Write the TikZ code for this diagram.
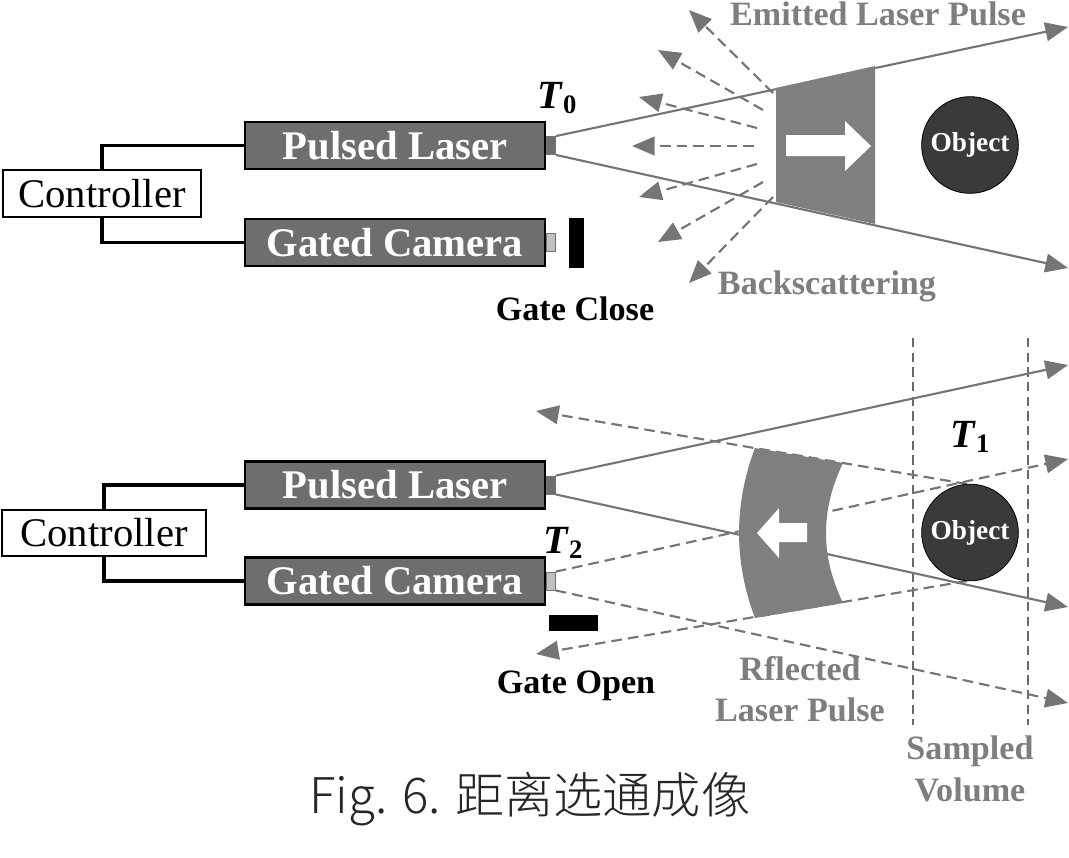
\documentclass[tikz,border=0pt]{standalone}
\usepackage{fontspec}
\setmainfont{Liberation Serif}
\newfontfamily\capfont{Noto Sans CJK SC Light}
\usetikzlibrary{arrows.meta}
\definecolor{beamgray}{HTML}{757575}
\definecolor{boxgray}{HTML}{6E6E6E}
\definecolor{pulsegray}{HTML}{7F7F7F}
\definecolor{objdark}{HTML}{3A3A3A}
\definecolor{labelgray}{HTML}{7E7E7E}
\tikzset{
  x=0.75pt,y=-0.75pt,
  devicebox/.style={draw=black,line width=1.9pt,fill=boxgray,minimum width=225pt,minimum height=35.5pt,inner sep=0pt,text=white,font=\bfseries\fontsize{30.5}{32}\selectfont},
  ctrlbox/.style={draw=black,line width=1.3pt,fill=white,minimum height=35pt,inner sep=0pt,font=\fontsize{30.5}{32}\selectfont},
  wire/.style={draw=black,line width=2.6pt},
  lasernoz/.style={draw=beamgray,fill=boxgray,line width=.6pt,minimum width=6.5pt,minimum height=13.5pt,inner sep=0pt},
  camnoz/.style={draw=beamgray,fill=black!25,line width=.6pt,minimum width=6.5pt,minimum height=13.5pt,inner sep=0pt},
  beam/.style={draw=beamgray,line width=1.6pt,-{Triangle[length=17pt,width=14pt,fill=beamgray]}},
  dbeam/.style={beam,dash pattern=on 8pt off 4.5pt},
  vdash/.style={draw=beamgray!90!black,line width=1.2pt,dash pattern=on 7pt off 4pt},
  pulse/.style={fill=pulsegray,draw=none},
  whitearrow/.style={fill=white,draw=none},
  objc/.style={circle,draw=black,fill=objdark,line width=.6pt,minimum size=72.5pt,inner sep=0pt,text=white,font=\bfseries\fontsize{20.5}{22}\selectfont},
  glabel/.style={text=labelgray,font=\bfseries\fontsize{25.6}{30}\selectfont,inner sep=0pt},
  klabel/.style={text=black,font=\bfseries\fontsize{25.6}{30}\selectfont,inner sep=0pt},
  tlabel/.style={text=black,font=\bfseries\fontsize{30}{30}\selectfont,inner sep=0pt},
  bar/.style={fill=black,draw=none,inner sep=0pt},
}
\newcommand{\Tsym}[1]{\textit{T}\raisebox{-.3ex}{\fontsize{20}{22}\selectfont #1}}
\begin{document}
\begin{tikzpicture}
\useasboundingbox (0,0) rectangle (1069,857);
% ---------- top
\node[ctrlbox,minimum width=149pt] (c1) at (102,193.5) {Controller};
\node[devicebox] (l1) at (395,145.5) {Pulsed Laser};
\node[devicebox] (g1) at (395,242.5) {Gated Camera};
\node[lasernoz,anchor=west] (ln1) at (l1.east) {};
\node[camnoz,anchor=west] (cn1) at (g1.east) {};
\draw[wire] (c1.north) |- (l1.west);
\draw[wire] (c1.south) |- (g1.west);
\node[bar,minimum width=11pt,minimum height=37pt] (b1) at (576.5,243) {};
\node[tlabel] (t0) at (557,98) {\Tsym{0}};
\node[klabel] (gc) at (575,309) {Gate Close};
\coordinate (e1u) at (1068,27);
\coordinate (e1d) at (1068,268);
\draw[beam] (ln1.north east) -- (e1u);
\draw[beam] (ln1.south east) -- (e1d);
\foreach \n/\sx/\sy/\ex/\ey in {a/773/93/689/10,b/763/110/658/50,c/757/128/639/97,d/754/146/632/146,e/757/164/639/197,f/763/182/658/242,g/773/197/689/283}{
  \coordinate (s\n) at (\sx,\sy);
  \coordinate (e\n) at (\ex,\ey);
  \draw[dbeam] (s\n) -- (e\n);
}
\fill[pulse] (776,88) -- (875,66) -- (875,224) -- (776,202) -- cycle;
\fill[whitearrow] (786,135) -- (845,135) -- (845,121) -- (871,146) -- (845,171) -- (845,156) -- (786,156) -- cycle;
\node[objc] (o1) at (970,145) {\raisebox{-2pt}{Object}};
\node[glabel] (em) at (878,14) {Emitted Laser Pulse};
\node[glabel] (bs) at (827,286) {Backscattering};
% ---------- bottom
\node[ctrlbox,minimum width=153pt] (c2) at (104,533) {Controller};
\node[devicebox] (l2) at (395,485) {Pulsed Laser};
\node[devicebox] (g2) at (395,581) {Gated Camera};
\node[lasernoz,anchor=west] (ln2) at (l2.east) {};
\node[camnoz,anchor=west] (cn2) at (g2.east) {};
\draw[wire] (c2.north) |- (l2.west);
\draw[wire] (c2.south) |- (g2.west);
\node[bar,minimum width=37pt,minimum height=12pt] (b2) at (573.5,623) {};
\node[tlabel] (t2) at (563,543) {\Tsym{2}};
\node[tlabel] (t1) at (970,437) {\Tsym{1}};
\node[klabel] (go) at (576,686) {Gate Open};
\draw[vdash] (913,338) -- (913,725);
\draw[vdash] (1028,338) -- (1028,725);
\coordinate (e2u) at (1068,365);
\coordinate (e2d) at (1068,607);
\coordinate (e3u) at (1068,459);
\coordinate (e3d) at (1068,703);
\coordinate (ra) at (967,484);
\coordinate (rb) at (967,581);
\coordinate (ta) at (536,411);
\coordinate (tb) at (536,654);
\draw[beam] (ln2.north east) -- (e2u);
\draw[beam] (ln2.south east) -- (e2d);
\draw[dbeam] (cn2.north east) -- (e3u);
\draw[dbeam] (cn2.south east) -- (e3d);
\draw[dbeam] (ra) -- (ta);
\draw[dbeam] (rb) -- (tb);
\fill[pulse] (755,448) -- (843,463) .. controls (820.3,510) and (820.3,556) .. (843,603) -- (755,618) .. controls (733.7,562) and (733.7,504) .. (755,448) -- cycle;
\fill[whitearrow] (757,533) -- (779,508) -- (779,523) -- (807,523) -- (807,542) -- (779,542) -- (779,558) -- cycle;
\node[objc] (o2) at (970,532.5) {\raisebox{-2pt}{Object}};
\node[glabel] (rf) at (800,669) {Rflected};
\node[glabel] (rl) at (800,710) {Laser Pulse};
\node[glabel] (sm) at (970,751) {Sampled};
\node[glabel] (vo) at (970,790) {Volume};
\node[inner sep=0pt,text=black!85,font=\capfont\fontsize{36.9}{40}\selectfont] (cap) at (530,799) {Fig. 6. 距离选通成像};
\end{tikzpicture}
\end{document}
